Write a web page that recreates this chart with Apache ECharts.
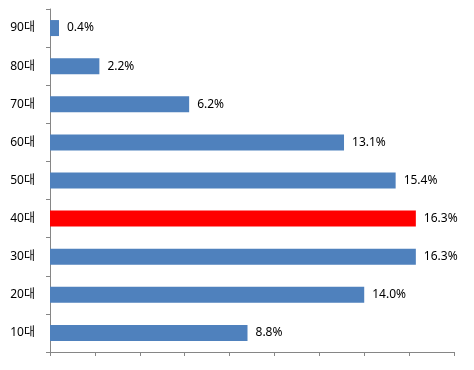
<!DOCTYPE html>
<html><head><meta charset="utf-8">
<script src="https://cdn.jsdelivr.net/npm/echarts@6/dist/echarts.min.js"></script>
<style>html,body{margin:0;padding:0;background:#fff}#c{width:474px;height:370px}</style>
</head><body><div id="c"></div>
<script>
const categories = ['10대','20대','30대','40대','50대','60대','70대','80대','90대'];
const values = [8.8, 14.0, 16.3, 16.3, 15.4, 13.1, 6.2, 2.2, 0.4];
const highlight = '40대';
const xTicks = [0, 18, 2];

const chart = echarts.init(document.getElementById('c'));
chart.setOption({
  animation: false,
  grid: {left: 50, right: 20, top: 9, bottom: 18, containLabel: false},
  xAxis: {
    type: 'value', min: xTicks[0], max: xTicks[1], interval: xTicks[2],
    axisLine: {show: true, lineStyle: {color: '#868686', width: 1}},
    axisTick: {show: true, inside: false, length: 4, lineStyle: {color: '#868686'}},
    axisLabel: {show: false},
    splitLine: {show: false}
  },
  yAxis: {
    type: 'category', data: categories,
    axisLine: {show: true, lineStyle: {color: '#868686', width: 1}},
    axisTick: {show: true, length: 4, lineStyle: {color: '#868686'}},
    axisLabel: {color: '#000', fontSize: 12, margin: 15, fontFamily: 'Noto Sans, Noto Sans CJK KR, sans-serif'}
  },
  series: [{
    type: 'bar',
    data: values.map((v, i) => ({value: v, itemStyle: {color: categories[i] === highlight ? '#FF0000' : '#4F81BD'}})),
    barWidth: 16,
    label: {
      show: true, position: 'right', distance: 8, color: '#000', fontSize: 12,
      fontFamily: 'Noto Sans, sans-serif',
      formatter: p => p.value.toFixed(1) + '%'
    }
  }]
});
</script></body></html>
